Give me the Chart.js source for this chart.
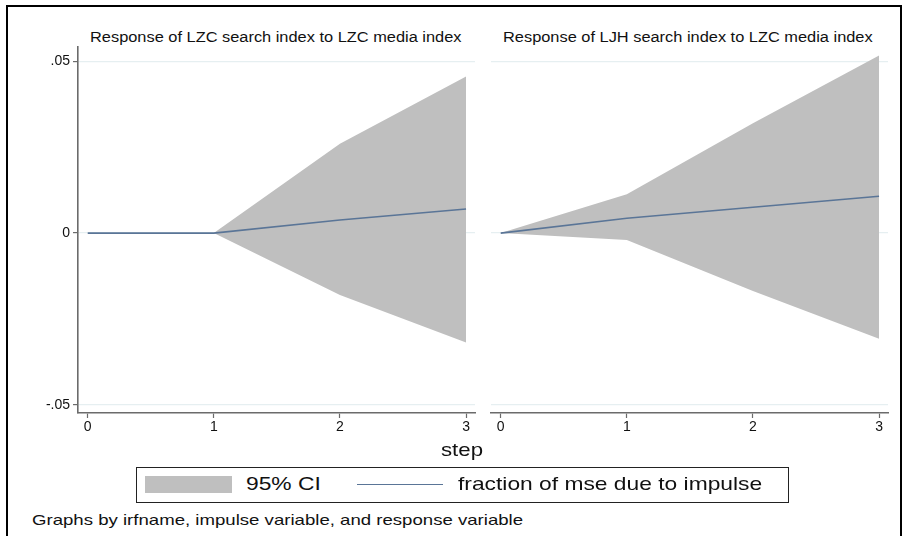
<!DOCTYPE html>
<html lang="en">
<head>
<meta charset="utf-8">
<title>IRF graph</title>
<script src="https://cdn.jsdelivr.net/npm/chart.js"></script>
<style>
  body { margin: 0; background: #fff; font-family: "Liberation Sans", Arial, sans-serif; }
  #page { position: relative; width: 905px; height: 536px; overflow: hidden; }
  #frame { position: absolute; left: 6px; top: 5px; width: 892px; height: 560px; border: 2px solid #000; }
  .txt { position: absolute; white-space: nowrap; color: #111; transform-origin: 0 0; }
  canvas { position: absolute; }
  #legend { position: absolute; left: 136px; top: 467px; width: 651px; height: 34px; border: 1px solid #222; }
</style>
</head>
<body>
<div id="page">
  <div id="frame"></div>
  <div class="txt" style="left:90px;top:29px;font-size:14px;transform:scaleX(1.17)">Response of LZC search index to LZC media index</div>
  <div class="txt" style="left:503px;top:29px;font-size:14px;transform:scaleX(1.17)">Response of LJH search index to LZC media index</div>
  <canvas id="c1" width="480" height="440" style="left:0;top:0"></canvas>
  <canvas id="c2" width="407" height="440" style="left:486px;top:0"></canvas>
  <div class="txt" style="left:441px;top:439px;font-size:19px;transform:scaleX(1.17)">step</div>
  <div id="legend">
    <div style="position:absolute;left:8px;top:8px;width:87px;height:17px;background:#bfbfbf"></div>
    <div class="txt" style="left:109px;top:5px;font-size:19px;transform:scaleX(1.2)">95% CI</div>
    <div style="position:absolute;left:220px;top:16px;width:86px;height:0;border-top:1.5px solid #5a7597"></div>
    <div class="txt" style="left:321px;top:5px;font-size:19px;transform:scaleX(1.2)">fraction of mse due to impulse</div>
  </div>
  <div class="txt" style="left:32px;top:511px;font-size:15px;transform:scaleX(1.24)">Graphs by irfname, impulse variable, and response variable</div>
</div>
<script>
// steps and tick labels
const steps = [0, 1, 2, 3];
const yTicks = [-0.05, 0, 0.05];
const yTickLabels = ['-.05', '0', '.05'];

// LZC search index <- LZC media index
const irf1 = [0, 0, 0.0038, 0.0070];
const lo1  = [0, 0, -0.0180, -0.0318];
const hi1  = [0, 0, 0.0260, 0.0455];

// LJH search index <- LZC media index
const irf2 = [0, 0.0043, 0.0075, 0.0107];
const lo2  = [0, -0.0020, -0.0168, -0.0307];
const hi2  = [0, 0.0113, 0.0319, 0.0516];

const axisGray = '#6b6b6b';
const tickFont = { family: 'Liberation Sans', size: 14 };

function pts(arr) { return steps.map((s, i) => ({ x: s, y: arr[i] })); }

function makeChart(id, irf, lo, hi, showY) {
  return new Chart(document.getElementById(id), {
    type: 'line',
    data: {
      datasets: [
        { data: pts(irf), borderColor: '#5a7597', borderWidth: 1.6, pointRadius: 0, fill: false, tension: 0 },
        { data: pts(lo), borderWidth: 0, borderColor: 'rgba(0,0,0,0)', pointRadius: 0, fill: false, tension: 0 },
        { data: pts(hi), borderWidth: 0, borderColor: 'rgba(0,0,0,0)', pointRadius: 0, fill: 1, backgroundColor: '#bfbfbf', tension: 0 }
      ]
    },
    options: {
      responsive: false,
      animation: false,
      layout: { padding: { top: 47, bottom: 0, left: showY ? 0 : 5, right: 5 } },
      plugins: { legend: { display: false }, tooltip: { enabled: false } },
      scales: {
        x: {
          type: 'linear',
          min: -0.077,
          max: 3.071,
          afterBuildTicks: s => { s.ticks = steps.map(v => ({ value: v })); },
          afterFit: s => { s.height = 27; },
          ticks: { color: '#111', font: tickFont, padding: 1, callback: v => String(v) },
          grid: { drawOnChartArea: false, drawTicks: true, tickLength: 5, tickColor: axisGray, tickWidth: 1.2 },
          border: { color: axisGray, width: 1.6 }
        },
        y: {
          min: -0.0523,
          max: 0.0541,
          afterBuildTicks: s => { s.ticks = yTicks.map(v => ({ value: v })); },
          afterFit: s => { s.width = showY ? 78 : 0; },
          ticks: {
            display: showY, color: '#111', font: tickFont, padding: 3,
            callback: (v, i) => yTickLabels[i]
          },
          grid: { color: '#e6eff1', lineWidth: 1.2, drawTicks: showY, tickLength: 5, tickColor: axisGray, tickWidth: 1.2 },
          border: { display: showY, color: axisGray, width: 1.6 }
        }
      }
    }
  });
}

makeChart('c1', irf1, lo1, hi1, true);
makeChart('c2', irf2, lo2, hi2, false);
</script>
</body>
</html>
